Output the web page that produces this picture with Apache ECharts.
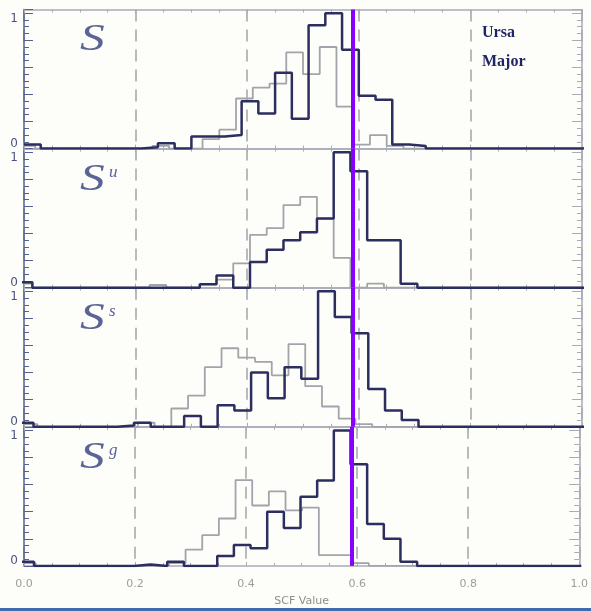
<!DOCTYPE html>
<html>
<head>
<meta charset="utf-8">
<script src="https://cdn.jsdelivr.net/npm/echarts@6/dist/echarts.min.js"></script>
<style>html,body{margin:0;padding:0;background:#fdfdf9;}#c{width:591px;height:611px;}</style>
</head>
<body>
<div id="c"></div>
<script>
// ---- data ----
const BIN = 0.03;                       // histogram bin width in SCF value
const MARKER_X = 0.594;                 // purple reference line
const PANEL_LABELS = [['S', ''], ['S', 'u'], ['S', 's'], ['S', 'g']];
const LEGEND_LINES = ['Ursa', 'Major'];
const X_NAME = 'SCF Value';
const Y_LABELS = ['0', '1'];

// left edge of the first bin for each panel
const DARK_START = [0, -0.015, -0.013, -0.012];
const GRAY_START = [-0.01, -0.015, -0.006, -0.009];

// Ursa Major (dark) histograms, normalised
const DARK_1 = [0.03,0,0,0,0,0,0,0.01,0.04,0,0.09,0.09,0.10,0.35,0.26,0.56,0.22,0.91,1.00,0.73,0.39,0.36,0.03,0.02,0,0,0,0,0,0,0,0,0,0];
const DARK_2 = [0.04,0,0,0,0,0,0,0,0,0,0,0.025,0.09,0,0.19,0.28,0.35,0.41,0.51,1.00,0.86,0.35,0.35,0.03,0,0,0,0,0,0,0,0,0,0];
const DARK_3 = [0.03,0,0,0,0,0,0.01,0.03,0,0,0.08,0,0.16,0.12,0.40,0.21,0.44,0.355,1.00,0.81,0.69,0.28,0.12,0.05,0,0,0,0,0,0,0,0,0,0];
const DARK_4 = [0.03,0,0,0,0,0,0,0.01,0,0.03,0,0,0.073,0.154,0.13,0.40,0.28,0.51,0.63,1.00,0.75,0.31,0.20,0.03,0,0,0,0,0,0,0,0,0,0];

// comparison (gray) histograms
const GRAY_1 = [0.02,0,0,0,0,0,0,0,0.02,0,0,0.07,0.14,0.37,0.45,0.48,0.71,0.55,0.75,0.31,0.03,0.10,0.02,0,0,0,0,0,0,0,0,0,0,0];
const GRAY_2 = [0.03,0,0,0,0,0,0,0,0.02,0,0,0.025,0.06,0.18,0.39,0.44,0.61,0.67,0.51,0.22,0,0.03,0,0,0,0,0,0,0,0,0,0,0,0];
const GRAY_3 = [0.02,0,0,0,0,0,0,0.03,0,0.135,0.23,0.44,0.58,0.51,0.48,0.38,0.61,0.30,0.15,0.06,0.02,0,0,0,0,0,0,0,0,0,0,0,0,0];
const GRAY_4 = [0.02,0,0,0,0,0,0,0,0,0.02,0.12,0.227,0.35,0.634,0.446,0.55,0.41,0.43,0.08,0.08,0.02,0,0,0,0,0,0,0,0,0,0,0,0,0];

const DARK = [DARK_1, DARK_2, DARK_3, DARK_4];
const GRAY = [GRAY_1, GRAY_2, GRAY_3, GRAY_4];

// ---- layout / style ----
const GRID_TOP = 9.5, GRID_H = 139.1, Y_MAX = 1.027;
const DARK_COLOR = '#2b2e5e', GRAY_COLOR = '#a3a3ab', FRAME = '#a9abb8', LEFT_AX = '#55608f';
const PURPLE = '#8a00ff', LABEL_COL = '#4d5482', S_COL = '#5c6396';

function steps(start, vals) {
  const pts = vals.map((v, i) => [start + i * BIN, v]);
  pts.push([start + vals.length * BIN, vals[vals.length - 1]]);
  return pts;
}

const grids = [], xAxes = [], yAxes = [], series = [], graphics = [];
for (let i = 0; i < 4; i++) {
  const top = GRID_TOP + i * GRID_H;
  grids.push({ left: 24, right: 9, top: top, height: GRID_H });
  const last = i === 3;
  xAxes.push({
    gridIndex: i, type: 'value', min: 0, max: 1, interval: 0.2, position: 'bottom',
    axisLine: { show: true, onZero: false, lineStyle: { color: FRAME, width: 1.5 } },
    axisTick: { show: true, inside: true, length: 4, lineStyle: { color: FRAME } },
    minorTick: { show: true, splitNumber: 4, length: 3, lineStyle: { color: FRAME } },
    splitLine: { show: true, lineStyle: { type: [12, 8], color: '#a8a8b0', width: 1.6 } },
    axisLabel: { show: last, margin: 13, color: '#9d9d9d', fontFamily: 'DejaVu Sans', fontSize: 11,
                 formatter: v => v.toFixed(1) },
    name: last ? X_NAME : '', nameLocation: 'middle', nameGap: 30,
    nameTextStyle: { color: '#8d8d8d', fontFamily: 'DejaVu Sans', fontSize: 11 }
  });
  xAxes.push({
    gridIndex: i, type: 'value', min: 0, max: 1, interval: 0.2, position: 'top',
    axisLine: { show: true, onZero: false, lineStyle: { color: FRAME, width: 1.5 } },
    axisTick: { show: true, inside: true, length: 4, lineStyle: { color: FRAME } },
    minorTick: { show: true, splitNumber: 4, length: 3, lineStyle: { color: FRAME } },
    splitLine: { show: false }, axisLabel: { show: false }
  });
  yAxes.push({
    gridIndex: i, type: 'value', min: 0, max: Y_MAX, interval: 0.2, position: 'left',
    axisLine: { show: true, onZero: false, lineStyle: { color: LEFT_AX, width: 1.5 } },
    axisTick: { show: true, inside: true, length: 9, lineStyle: { color: LEFT_AX } },
    minorTick: { show: true, splitNumber: 4, length: 5, lineStyle: { color: LEFT_AX } },
    splitLine: { show: false },
    axisLabel: {
      margin: 6, color: LABEL_COL, fontFamily: 'DejaVu Sans', fontSize: 12,
      formatter: v => Math.abs(v - 1) < 1e-6 ? '{t|' + Y_LABELS[1] + '}' : (Math.abs(v) < 1e-6 ? '{b|' + Y_LABELS[0] + '}' : ''),
      rich: { t: { padding: [11, 0, 0, 0], color: LABEL_COL, fontSize: 12 }, b: { padding: [0, 0, 10, 0], color: LABEL_COL, fontSize: 12 } }
    }
  });
  yAxes.push({
    gridIndex: i, type: 'value', min: 0, max: Y_MAX, interval: 0.2, position: 'right',
    axisLine: { show: true, onZero: false, lineStyle: { color: FRAME, width: 1.5 } },
    axisTick: { show: true, inside: true, length: 10, lineStyle: { color: FRAME } },
    minorTick: { show: true, splitNumber: 4, length: 5, lineStyle: { color: FRAME } },
    splitLine: { show: false }, axisLabel: { show: false }
  });
  series.push({
    type: 'line', xAxisIndex: 2 * i, yAxisIndex: 2 * i, step: 'end', showSymbol: false, symbol: 'none',
    clip: true, z: 2, data: steps(GRAY_START[i], GRAY[i]),
    lineStyle: { color: GRAY_COLOR, width: 1.8 }
  });
  series.push({
    type: 'line', xAxisIndex: 2 * i, yAxisIndex: 2 * i, step: 'end', showSymbol: false, symbol: 'none',
    clip: true, z: 3, data: steps(DARK_START[i], DARK[i]),
    lineStyle: { color: DARK_COLOR, width: 2.5 }
  });
  series.push({
    type: 'line', xAxisIndex: 2 * i, yAxisIndex: 2 * i, data: [], z: 10,
    markLine: { silent: true, symbol: 'none', label: { show: false }, animation: false,
      lineStyle: { color: PURPLE, width: 4, type: 'solid' }, data: [{ xAxis: MARKER_X }] }
  });
  const lab = PANEL_LABELS[i];
  graphics.push({
    type: 'text', x: 80, y: top + 12, scaleX: 1.3, scaleY: 1, originX: 0, originY: 0, silent: true, z: 20,
    style: { text: lab[0], font: 'italic 38px "Liberation Serif"', fill: S_COL, verticalAlign: 'top', align: 'left' }
  });
  if (lab[1]) {
    graphics.push({
      type: 'text', x: 109, y: top + 15, silent: true, z: 20,
      style: { text: lab[1], font: 'italic 17px "Liberation Serif"', fill: S_COL, verticalAlign: 'top', align: 'left' }
    });
  }
}
graphics.push({ type: 'rect', left: 0, bottom: 0, shape: { width: 591, height: 3 }, style: { fill: '#3b6db0' }, silent: true });

const chart = echarts.init(document.getElementById('c'), null, { renderer: 'canvas' });
chart.setOption({
  backgroundColor: '#fdfdf9',
  animation: false,
  title: [{
    text: LEGEND_LINES.join('\n'), left: 482, top: 18, padding: 0,
    textStyle: { fontFamily: 'Liberation Serif', fontWeight: 'bold', fontSize: 16, color: '#1f2563', lineHeight: 29 }
  }],
  grid: grids,
  xAxis: xAxes,
  yAxis: yAxes,
  series: series,
  graphic: graphics
});
</script>
</body>
</html>
